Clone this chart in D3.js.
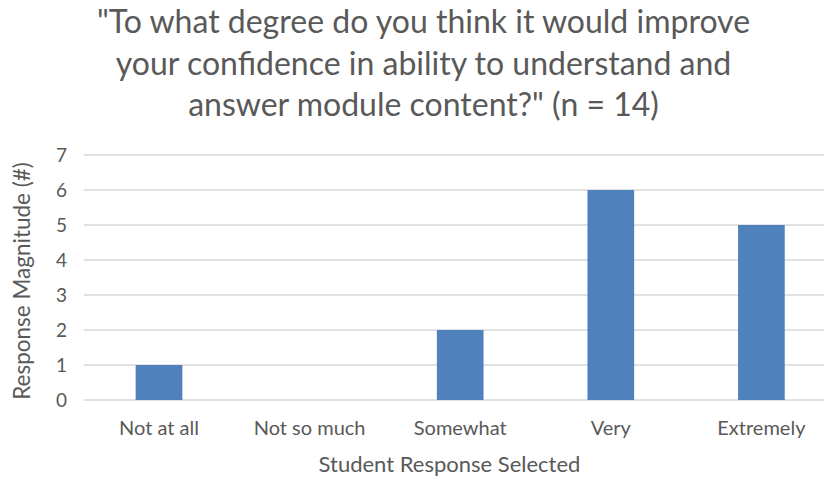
<!DOCTYPE html>
<html>
<head>
<meta charset="utf-8">
<script src="https://cdn.jsdelivr.net/npm/d3@7"></script>
<style>
  body { margin: 0; background: #fff; }
  text { font-family: Lato, "Noto Sans", sans-serif; fill: #595959; }
</style>
</head>
<body>
<div class="canvas"></div>
<script>
const categories = ["Not at all", "Not so much", "Somewhat", "Very", "Extremely"];
const counts = [1, 0, 2, 6, 5];
const yTicks = [0, 1, 2, 3, 4, 5, 6, 7];
const titleLines = [
  "\"To what degree do you think it would improve",
  "your confidence in ability to understand and",
  "answer module content?\" (n = 14)"
];

const width = 824;
const height = 481;
const plot = { left: 83.7, right: 836.7, top: 155, bottom: 400 };

const svg = d3.select(".canvas")
  .append("svg")
  .attr("width", width)
  .attr("height", height);

const x = d3.scaleBand()
  .domain(categories)
  .range([plot.left, plot.right])
  .paddingInner(0.69)
  .paddingOuter(0.345);

const y = d3.scaleLinear()
  .domain([0, 7])
  .range([plot.bottom, plot.top]);

// gridlines
svg.append("g")
  .selectAll("line")
  .data(yTicks)
  .enter()
  .append("line")
  .attr("x1", plot.left)
  .attr("x2", width)
  .attr("y1", d => y(d))
  .attr("y2", d => y(d))
  .attr("stroke", "#d9d9d9")
  .attr("stroke-width", 1.3);

// y tick labels
svg.append("g")
  .selectAll("text")
  .data(yTicks)
  .enter()
  .append("text")
  .attr("x", 67)
  .attr("y", d => y(d))
  .attr("dy", "0.36em")
  .attr("text-anchor", "end")
  .style("font-size", "19px")
  .text(d => d);

// bars
svg.append("g")
  .selectAll("rect")
  .data(categories)
  .enter()
  .append("rect")
  .attr("x", d => x(d))
  .attr("width", x.bandwidth())
  .attr("y", (d, i) => y(counts[i]))
  .attr("height", (d, i) => y(0) - y(counts[i]))
  .attr("fill", "#4f81bd");

// category labels
svg.append("g")
  .selectAll("text")
  .data(categories)
  .enter()
  .append("text")
  .attr("x", d => x(d) + x.bandwidth() / 2)
  .attr("y", 435)
  .attr("text-anchor", "middle")
  .style("font-size", "20px")
  .text(d => d);

// axis titles
svg.append("text")
  .attr("x", 449.5)
  .attr("y", 472)
  .attr("text-anchor", "middle")
  .style("font-size", "22px")
  .text("Student Response Selected");

svg.append("text")
  .attr("transform", "translate(30, 281) rotate(-90)")
  .attr("text-anchor", "middle")
  .style("font-size", "22.5px")
  .text("Response Magnitude (#)");

// chart title
svg.append("g")
  .selectAll("text")
  .data(titleLines)
  .enter()
  .append("text")
  .attr("x", 423.5)
  .attr("y", (d, i) => 33 + i * 41.5)
  .attr("text-anchor", "middle")
  .style("font-size", "32px")
  .text(d => d);
</script>
</body>
</html>
